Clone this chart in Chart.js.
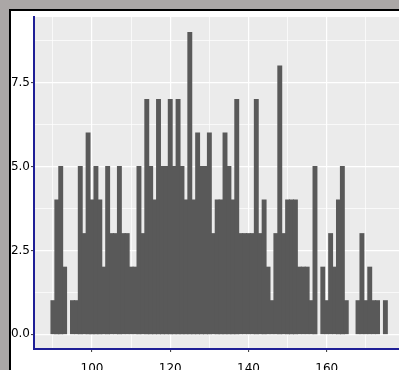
<!DOCTYPE html>
<html>
<head>
<meta charset="utf-8">
<script src="https://cdn.jsdelivr.net/npm/chart.js@4.4.1/dist/chart.umd.min.js"></script>
<style>
  html, body { margin: 0; padding: 0; background: #aba7a6; overflow: hidden; }
</style>
</head>
<body>
<canvas id="histChart" width="399" height="370"></canvas>
<script>
// bin centres (width 1) and counts
const binCenters = [
  90, 91, 92, 93, 94, 95, 96, 97, 98, 99,
  100, 101, 102, 103, 104, 105, 106, 107, 108, 109,
  110, 111, 112, 113, 114, 115, 116, 117, 118, 119,
  120, 121, 122, 123, 124, 125, 126, 127, 128, 129,
  130, 131, 132, 133, 134, 135, 136, 137, 138, 139,
  140, 141, 142, 143, 144, 145, 146, 147, 148, 149,
  150, 151, 152, 153, 154, 155, 156, 157, 158, 159,
  160, 161, 162, 163, 164, 165, 166, 167, 168, 169,
  170, 171, 172, 173, 174, 175
];
const counts = [
  1, 4, 5, 2, 0, 1, 1, 5, 3, 6,
  4, 5, 4, 2, 5, 3, 3, 5, 3, 3,
  2, 2, 5, 3, 7, 5, 4, 7, 5, 5,
  7, 5, 7, 5, 4, 9, 4, 6, 5, 5,
  6, 3, 4, 4, 6, 5, 4, 7, 3, 3,
  3, 3, 7, 3, 4, 2, 1, 3, 8, 3,
  4, 4, 4, 2, 2, 2, 1, 5, 0, 2,
  1, 3, 2, 4, 5, 1, 0, 0, 1, 3,
  1, 2, 1, 1, 0, 1
];

// axis breaks
const xMajor = [100, 120, 140, 160];
const xMinor = [90, 110, 130, 150, 170];
const yMajor = [0, 2.5, 5, 7.5];
const yMinor = [1.25, 3.75, 6.25, 8.75];
const yLabels = ['0.0', '2.5', '5.0', '7.5'];

const AXIS_BLUE = '#1f1f96';
const BAR_GREY = '#595959';
const FONT = { family: 'DejaVu Sans', size: 12 };

// gray surround, black frame, white page and panel background
const framePlugin = {
  id: 'framePlugin',
  beforeDraw(chart) {
    const c = chart.ctx;
    const a = chart.chartArea;
    c.save();
    c.fillStyle = '#aba7a6';
    c.fillRect(0, 0, chart.width, chart.height);
    c.fillStyle = '#ffffff';
    c.fillRect(10, 10, chart.width, chart.height);
    c.strokeStyle = '#000000';
    c.lineWidth = 2;
    c.beginPath();
    c.moveTo(10, chart.height + 5);
    c.lineTo(10, 10);
    c.lineTo(chart.width + 5, 10);
    c.stroke();
    c.fillStyle = '#ebebeb';
    c.fillRect(a.left, a.top, a.right - a.left, a.bottom - a.top);
    c.restore();
  }
};

function breaks(major, minor) {
  return major.concat(minor).sort((a, b) => a - b).map(v => ({ value: v }));
}

function isMajor(list, ctx) {
  return !!ctx.tick && list.includes(ctx.tick.value);
}

new Chart(document.getElementById('histChart'), {
  type: 'bar',
  data: {
    datasets: [{
      data: binCenters.map((x, i) => ({ x: x, y: counts[i] })),
      // empty bins stay empty (no inflated sliver at the baseline)
      backgroundColor: ctx => (ctx.raw && ctx.raw.y === 0) ? 'rgba(0,0,0,0)' : BAR_GREY,
      borderWidth: 0,
      barPercentage: 1,
      categoryPercentage: 1,
      inflateAmount: 0.5
    }]
  },
  options: {
    responsive: false,
    animation: false,
    layout: { padding: { top: 17, left: 0, right: 0, bottom: 0 } },
    plugins: { legend: { display: false }, tooltip: { enabled: false } },
    scales: {
      x: {
        type: 'linear',
        offset: false,
        min: 85.17,
        max: 178.48,
        afterBuildTicks: s => { s.ticks = breaks(xMajor, xMinor); },
        afterFit: s => { s.height = 21; },
        border: { display: true, color: AXIS_BLUE, width: 2 },
        grid: {
          offset: false,
          color: '#ffffff',
          lineWidth: ctx => isMajor(xMajor, ctx) ? 1.2 : 0.7,
          tickLength: 3,
          tickWidth: 1,
          tickColor: ctx => isMajor(xMajor, ctx) ? '#333333' : 'rgba(0,0,0,0)'
        },
        ticks: {
          autoSkip: false,
          maxRotation: 0,
          padding: 10,
          color: '#000000',
          font: FONT,
          callback: v => xMajor.includes(v) ? String(v) : ''
        }
      },
      y: {
        min: -0.44,
        max: 9.46,
        afterBuildTicks: s => { s.ticks = breaks(yMajor, yMinor); },
        afterFit: s => { s.width = 34; },
        border: { display: true, color: AXIS_BLUE, width: 2 },
        grid: {
          color: '#ffffff',
          lineWidth: ctx => isMajor(yMajor, ctx) ? 1.2 : 0.7,
          tickLength: 3,
          tickWidth: 1,
          tickColor: ctx => isMajor(yMajor, ctx) ? '#333333' : 'rgba(0,0,0,0)'
        },
        ticks: {
          autoSkip: false,
          padding: 1,
          color: '#000000',
          font: FONT,
          callback: v => {
            const k = yMajor.indexOf(v);
            return k >= 0 ? yLabels[k] : '';
          }
        }
      }
    }
  },
  plugins: [framePlugin]
});
</script>
</body>
</html>
